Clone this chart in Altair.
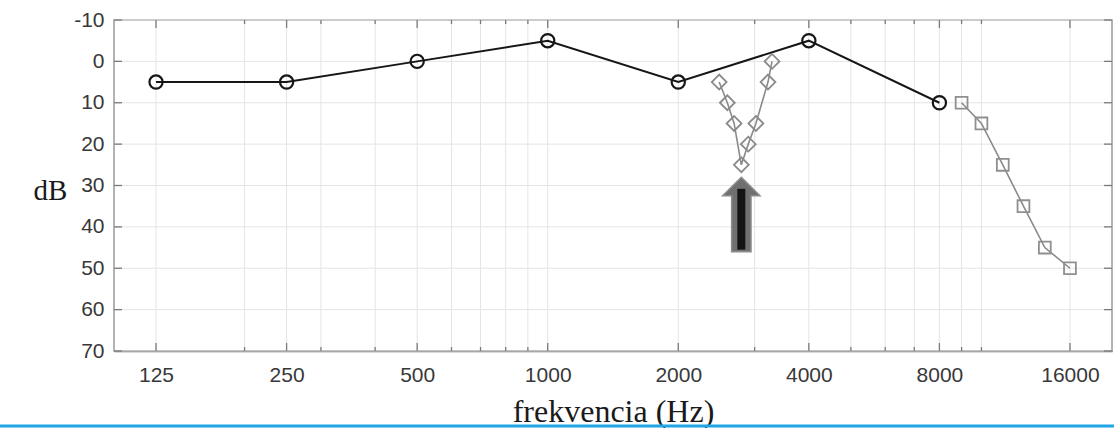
import altair as alt
import pandas as pd

# Hearing thresholds at the standard audiometric frequencies (Hz, dB HL)
std_freq = [125, 250, 500, 1000, 2000, 4000, 8000]
std_db = [5, 5, 0, -5, 5, -5, 10]

# Fine-step sweep around the notch
notch_freq = [2485, 2595, 2690, 2795, 2900, 3020, 3220, 3290]
notch_db = [5, 10, 15, 25, 20, 15, 5, 0]

# Extended high-frequency thresholds
ehf_freq = [9000, 10000, 11200, 12500, 14000, 16000]
ehf_db = [10, 15, 25, 35, 45, 50]

# Axis ticks and log-scale minor grid
x_ticks = [125, 250, 500, 1000, 2000, 4000, 8000, 16000]
x_minor = [200, 300, 400, 600, 700, 800, 900, 3000, 5000, 6000, 7000, 9000, 10000]
y_ticks = [-10, 0, 10, 20, 30, 40, 50, 60, 70]

# Arrow pointing at the deepest point of the notch
arrow_freq = 2795
arrow_tip_db = 28
arrow_tail_db = 46

W, H = 998, 331
PX_PER_DB = H / 80.0

xs = alt.Scale(type="log", domain=[100, 20000], nice=False)
ys = alt.Scale(domain=[-10, 70], reverse=True, nice=False, zero=False)

std = pd.DataFrame({"f": std_freq, "db": std_db})
notch = pd.DataFrame({"f": notch_freq, "db": notch_db})
ehf = pd.DataFrame({"f": ehf_freq, "db": ehf_db})
major = pd.DataFrame({"f": x_ticks})
minor = pd.DataFrame({"f": x_minor})
ygrid = pd.DataFrame({"db": y_ticks})
one = pd.DataFrame({"k": [0]})

grid_color = "#e4e4e4"
tick_color = "#7a7a7a"
label_color = "#383838"

x_axis = alt.Axis(
    values=x_ticks,
    format="d",
    ticks=False,
    grid=False,
    domain=True,
    domainColor="#6a6a6a",
    domainWidth=1.5,
    labelFont="Liberation Sans",
    labelFontSize=21,
    labelColor=label_color,
    labelPadding=13,
    labelOverlap=False,
    title="frekvencia (Hz)",
    titleFont="Liberation Serif",
    titleFontSize=32,
    titleFontWeight="normal",
    titleColor="#1a1a1a",
    titleBaseline="alphabetic",
    titleY=70,
)
y_axis = alt.Axis(
    values=y_ticks,
    ticks=False,
    grid=False,
    domain=False,
    labelExpr="'' + datum.value",
    labelFont="Liberation Sans",
    labelFontSize=21,
    labelColor=label_color,
    labelPadding=10,
    title="dB",
    titleAngle=0,
    titleFont="Liberation Serif",
    titleFontSize=29,
    titleFontWeight="normal",
    titleColor="#1a1a1a",
    titleAlign="center",
    titleBaseline="middle",
    titleX=-64,
    titleY=170,
)

# every layer shares the same positional encodings
X = alt.X("f:Q", scale=xs, axis=x_axis, title="frekvencia (Hz)")
Y = alt.Y("db:Q", scale=ys, axis=y_axis, title="dB")

# vertical grid lines (major ticks + log minor lines)
xgrid_major = alt.Chart(major).mark_rule(color=grid_color, strokeWidth=1).encode(
    x=X, y=alt.value(0), y2=alt.value(H)
)
xgrid_minor = alt.Chart(minor).mark_rule(color=grid_color, strokeWidth=1).encode(
    x=X, y=alt.value(0), y2=alt.value(H)
)

# horizontal grid lines
ygrid_layer = alt.Chart(ygrid).mark_rule(color=grid_color, strokeWidth=1).encode(
    y=Y, x=alt.value(0), x2=alt.value(W)
)

# inward-pointing tick marks on all four sides
def xticks(df, length):
    bottom = alt.Chart(df).mark_rule(color=tick_color, strokeWidth=1.3).encode(
        x=X, y=alt.value(H), y2=alt.value(H - length)
    )
    top = alt.Chart(df).mark_rule(color=tick_color, strokeWidth=1.3).encode(
        x=X, y=alt.value(0), y2=alt.value(length)
    )
    return [bottom, top]

yticks_left = alt.Chart(ygrid).mark_rule(color=tick_color, strokeWidth=1.3).encode(
    y=Y, x=alt.value(0), x2=alt.value(8)
)
yticks_right = alt.Chart(ygrid).mark_rule(color=tick_color, strokeWidth=1.3).encode(
    y=Y, x=alt.value(W), x2=alt.value(W - 8)
)

# standard audiogram: black line with open circles
std_line = alt.Chart(std).mark_line(color="#161616", strokeWidth=2).encode(x=X, y=Y)
std_pts = alt.Chart(std).mark_point(
    shape="circle", size=175, filled=False, stroke="#161616", strokeWidth=2.2, opacity=1
).encode(x=X, y=Y)

# notch sweep: gray line with open diamonds
notch_line = alt.Chart(notch).mark_line(color="#8a8a8a", strokeWidth=1.6).encode(x=X, y=Y)
notch_pts = alt.Chart(notch).mark_point(
    shape="diamond", size=220, filled=False, stroke="#8a8a8a", strokeWidth=1.8, opacity=1
).encode(x=X, y=Y)

# extended high frequencies: gray line with open squares
ehf_line = alt.Chart(ehf).mark_line(color="#8a8a8a", strokeWidth=1.6).encode(x=X, y=Y)
ehf_pts = alt.Chart(ehf).mark_point(
    shape="square", size=140, filled=False, stroke="#8f8f8f", strokeWidth=1.8, opacity=1
).encode(x=X, y=Y)

# arrow: gray outline shape plus a dark core
arrow_df = pd.DataFrame(
    {"f": [arrow_freq], "db": [(arrow_tip_db + arrow_tail_db) / 2.0]}
)
core_df = pd.DataFrame(
    {"f": [arrow_freq], "db": [arrow_tip_db + 2.8], "db_end": [arrow_tail_db - 0.5]}
)
arrow_len_px = (arrow_tail_db - arrow_tip_db) * PX_PER_DB
arrow_path = "M0,-1L0.5,-0.5L0.26,-0.5L0.26,1L-0.26,1L-0.26,-0.5L-0.5,-0.5Z"
arrow_body = alt.Chart(arrow_df).mark_point(
    shape=arrow_path, size=arrow_len_px ** 2, filled=True, fill="#707070",
    stroke="#8c8c8c", strokeWidth=1.5, opacity=1
).encode(x=X, y=Y)
arrow_core = alt.Chart(core_df).mark_rule(color="#141414", strokeWidth=8).encode(
    x=X, y=Y, y2="db_end:Q"
)

# blue separator line along the bottom edge of the figure
blue_rule = alt.Chart(one).mark_rule(color="#1fa6e6", strokeWidth=3).encode(
    x=alt.value(-114), x2=alt.value(W + 2), y=alt.value(406)
)

layers = [xgrid_major, xgrid_minor, ygrid_layer]
layers += xticks(major, 8) + xticks(minor, 4)
layers += [yticks_left, yticks_right]
layers += [std_line, notch_line, ehf_line, std_pts, notch_pts, ehf_pts]
layers += [arrow_body, arrow_core, blue_rule]

chart = (
    alt.layer(*layers)
    .properties(
        width=W,
        height=H,
        autosize=alt.AutoSizeParams(type="none"),
        padding={"left": 114, "top": 20, "right": 2, "bottom": 77},
        background="white",
    )
    .configure_view(stroke="#9a9a9a", strokeWidth=1.5)
)

chart.save("out.html", embed_options={"renderer": "svg", "actions": False})
